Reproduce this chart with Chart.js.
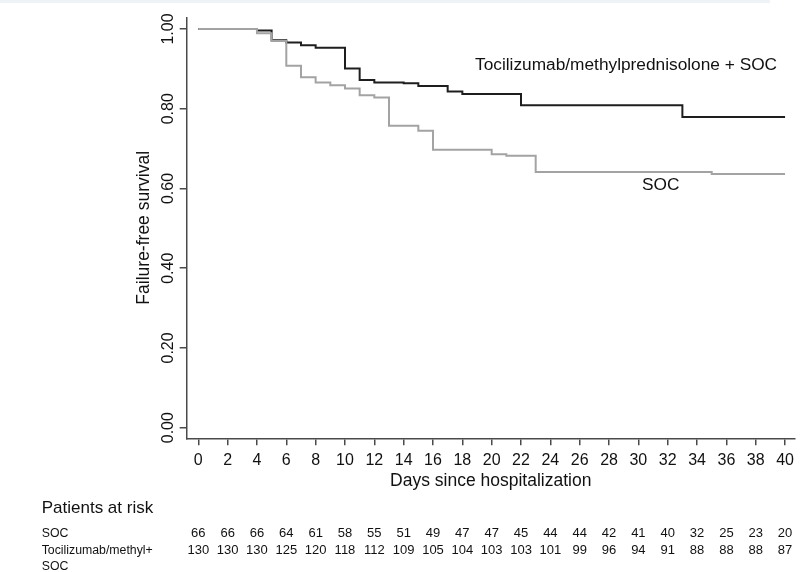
<!DOCTYPE html>
<html lang="en">
  <head>
    <meta charset="utf-8" />
    <title>Failure-free survival</title>
    <style>
      * {
        margin: 0;
        padding: 0;
      }
      body {
        width: 800px;
        height: 572px;
        overflow: hidden;
        background: #fff;
        position: relative;
      }
      .topStrip {
        position: absolute;
        left: 0;
        top: 0;
        width: 770px;
        height: 3px;
        background: #eef3f8;
      }
    </style>
  </head>
  <body>
    <canvas id="kmChart" width="800" height="572"></canvas>
    <div class="topStrip"></div>

    <script src="https://cdn.jsdelivr.net/npm/chart.js"></script>
    <script>
      // Kaplan-Meier steps
      const socDays = [0, 4, 5, 6, 7, 8, 9, 10, 11, 12, 13, 15, 16, 20, 21, 23, 35, 40];
      const socSurv = [1.0, 0.989, 0.97, 0.908, 0.879, 0.866, 0.859, 0.851, 0.834, 0.828, 0.757, 0.745, 0.697, 0.686, 0.682, 0.641, 0.636, 0.636];

      const tociDays = [0, 4, 5, 6, 7, 8, 10, 11, 12, 14, 15, 17, 18, 22, 33, 40];
      const tociSurv = [1.0, 0.996, 0.972, 0.966, 0.959, 0.953, 0.901, 0.872, 0.866, 0.864, 0.857, 0.843, 0.837, 0.809, 0.779, 0.779];

      // ticks
      const xTicks = [0, 2, 4, 6, 8, 10, 12, 14, 16, 18, 20, 22, 24, 26, 28, 30, 32, 34, 36, 38, 40];
      const yTicks = [0, 0.2, 0.4, 0.6, 0.8, 1.0];

      // patients at risk, one per x tick
      const riskDays = xTicks;
      const socAtRisk = [66, 66, 66, 64, 61, 58, 55, 51, 49, 47, 47, 45, 44, 44, 42, 41, 40, 32, 25, 23, 20];
      const tociAtRisk = [130, 130, 130, 125, 120, 118, 112, 109, 105, 104, 103, 103, 101, 99, 96, 94, 91, 88, 88, 88, 87];

      const FONT = "'Liberation Sans', Arial, sans-serif";
      const textColor = "#111";
      const axisColor = "#4a4a4a";

      Chart.defaults.font.family = FONT;
      Chart.defaults.color = textColor;

      const toPoints = (days, surv) => days.map((d, i) => ({ x: d, y: surv[i] }));

      // text labels + at-risk table
      const annotations = {
        id: "annotations",
        afterDraw(chart) {
          const { ctx, scales: { x } } = chart;
          ctx.save();
          ctx.fillStyle = textColor;
          ctx.textBaseline = "alphabetic";
          ctx.textAlign = "left";

          ctx.font = "17.3px " + FONT;
          ctx.fillText("Tocilizumab/methylprednisolone + SOC", 475, 70);
          ctx.fillText("SOC", 642, 190);
          ctx.font = "17px " + FONT;
          ctx.fillText("Patients at risk", 41.7, 513);

          ctx.font = "12.3px " + FONT;
          ctx.fillText("SOC", 41.7, 537);
          ctx.fillText("Tocilizumab/methyl+", 41.7, 553.5);
          ctx.fillText("SOC", 41.7, 570);

          ctx.font = "13px " + FONT;
          ctx.textAlign = "center";
          riskDays.forEach((d, i) => {
            const px = x.getPixelForValue(d);
            ctx.fillText(String(socAtRisk[i]), px, 537);
            ctx.fillText(String(tociAtRisk[i]), px, 553.5);
          });
          ctx.restore();
        },
      };

      const config = {
        type: "line",
        data: {
          datasets: [
            {
              label: "SOC",
              data: toPoints(socDays, socSurv),
              borderColor: "#a3a3a3",
              borderWidth: 2,
              stepped: "before",
              pointRadius: 0,
              fill: false,
            },
            {
              label: "Tocilizumab/methylprednisolone + SOC",
              data: toPoints(tociDays, tociSurv),
              borderColor: "#1e1e1e",
              borderWidth: 2,
              stepped: "before",
              pointRadius: 0,
              fill: false,
            },
          ],
        },
        options: {
          responsive: false,
          animation: false,
          layout: { padding: { top: 17.3, right: 2, left: 0, bottom: 0 } },
          plugins: {
            legend: { display: false },
            tooltip: { enabled: false },
          },
          scales: {
            x: {
              type: "linear",
              min: -0.79,
              max: 40.66,
              afterBuildTicks: (scale) => {
                scale.ticks = xTicks.map((v) => ({ value: v }));
              },
              afterFit: (scale) => {
                scale.height = 572 - 438.3;
              },
              border: { display: true, color: axisColor, width: 1.5 },
              grid: { drawOnChartArea: false, tickLength: 7, color: axisColor, lineWidth: 1.5 },
              ticks: {
                autoSkip: false,
                maxRotation: 0,
                padding: 6,
                font: { size: 16 },
                color: textColor,
                callback: (v) => String(v),
              },
              title: {
                display: true,
                text: "Days since hospitalization",
                font: { size: 17.5 },
                color: textColor,
                padding: { top: 0, bottom: 80.5 },
              },
            },
            y: {
              type: "linear",
              min: -0.0266,
              max: 1.0293,
              afterBuildTicks: (scale) => {
                scale.ticks = yTicks.map((v) => ({ value: v }));
              },
              afterFit: (scale) => {
                scale.width = 186.7;
              },
              border: { display: true, color: axisColor, width: 1.5 },
              grid: { drawOnChartArea: false, tickLength: 7, color: axisColor, lineWidth: 1.5 },
              ticks: {
                minRotation: 90,
                maxRotation: 90,
                crossAlign: "center",
                padding: -4,
                font: { size: 16 },
                color: textColor,
                callback: (v) => v.toFixed(2),
              },
              title: {
                display: true,
                text: "Failure-free survival",
                font: { size: 17.5 },
                color: textColor,
                padding: { top: 134, bottom: 0 },
              },
            },
          },
        },
        plugins: [annotations],
      };

      const myChart = new Chart(document.getElementById("kmChart"), config);
    </script>
  </body>
</html>
